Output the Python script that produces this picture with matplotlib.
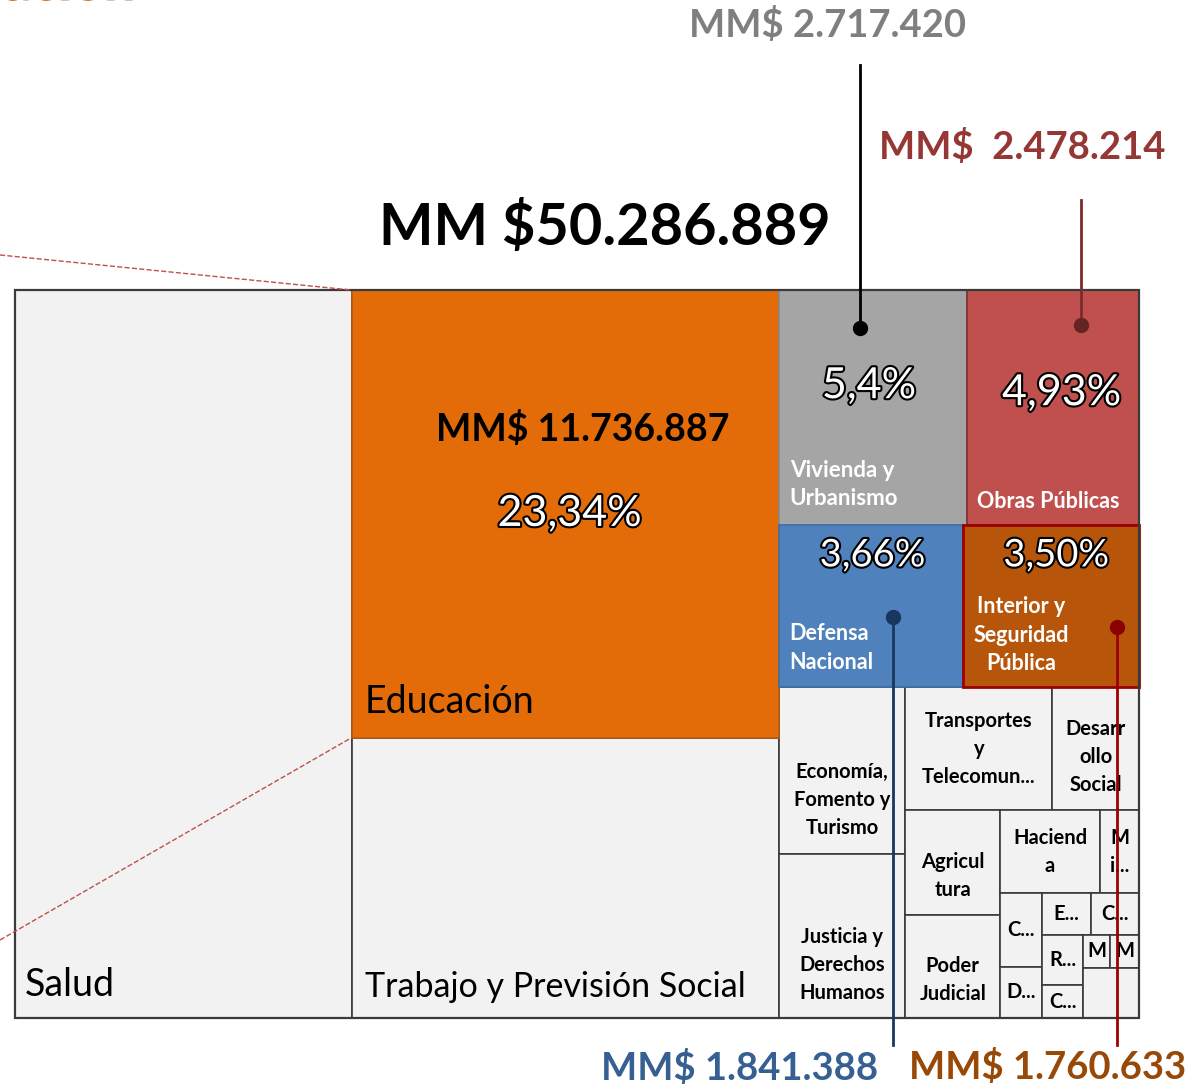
import matplotlib.pyplot as plt
import matplotlib.patheffects as pe
from matplotlib.patches import Rectangle

plt.rcParams['font.family'] = ['Lato', 'DejaVu Sans']

# presupuesto por ministerio (MM$)
ministerios = ["Salud", "Educación", "Trabajo y Previsión Social",
               "Vivienda y\nUrbanismo", "Obras Públicas",
               "Defensa\nNacional", "Interior y\nSeguridad\nPública",
               "Economía,\nFomento y\nTurismo", "Justicia y\nDerechos\nHumanos",
               "Transportes\ny\nTelecomun...", "Desarr\nollo\nSocial",
               "Agricul\ntura", "Poder\nJudicial", "Haciend\na", "M\ni...",
               "C...", "D...", "E...", "C...", "R...", "C...", "M", "M", ""]
montos = [15082000, 11736887, 7340000,
          2717420, 2478214,
          1841388, 1760633,
          1298000, 1281000,
          1113000, 658000,
          608000, 601000, 506000, 197000,
          191000, 132000, 127000, 124000, 126000, 83000, 55000, 59000, 172000]
porcentajes = {1: "23,34%", 3: "5,4%", 4: "4,93%", 5: "3,66%", 6: "3,50%"}
total_txt = "MM $50.286.889"

# estructura del treemap (h = lado a lado, v = apilado)
arbol = ('h', [0, ('v', [1, 2]),
               ('v', [('h', [3, 4]), ('h', [5, 6]),
                      ('h', [('v', [7, 8]),
                             ('v', [('h', [9, 10]),
                                    ('h', [('v', [11, 12]),
                                           ('v', [('h', [13, 14]),
                                                  ('h', [('v', [15, 16]),
                                                         ('v', [('h', [17, 18]),
                                                                ('h', [('v', [19, 20]),
                                                                       ('v', [('h', [21, 22]), 23])])])])])])])])])])


def suma(n):
    if isinstance(n, int):
        return montos[n]
    return sum(suma(c) for c in n[1])


rects = {}


def layout(n, x, y, w, h):
    if isinstance(n, int):
        rects[n] = (x, y, w, h)
        return
    d, hijos = n
    tot = suma(n)
    for c in hijos:
        f = suma(c) / tot
        if d == 'h':
            layout(c, x, y, w * f, h)
            x += w * f
        else:
            layout(c, x, y, w, h * f)
            y += h * f


fig = plt.figure(figsize=(11.91, 10.87), dpi=100)
ax = fig.add_axes([0, 0, 1, 1])
ax.set_xlim(0, 1191)
ax.set_ylim(1087, 0)
ax.axis('off')

layout(arbol, 15, 290, 1124, 728)

relleno = {1: "#e36c09", 3: "#a5a5a5", 4: "#c0504d", 5: "#4f81bd", 6: "#b7560a"}
borde = {1: "#b85a10", 3: "#8a8a8a", 4: "#7a3030", 5: "#3f6ea5", 6: "#9c0000"}

for i in range(len(montos)):
    x, y, w, h = rects[i]
    ax.add_patch(Rectangle((x, y), w, h, facecolor=relleno.get(i, "#f2f2f2"),
                           edgecolor=borde.get(i, "#3a3a3a"),
                           linewidth=2 if i == 6 else 1.2, zorder=2 if i in relleno else 1))
ax.add_patch(Rectangle((15, 290), 1124, 728, fill=False, edgecolor="#3a3a3a", linewidth=1.6, zorder=3))

outline = [pe.withStroke(linewidth=3, foreground='black')]


def pos(i, fx, fy):
    x, y, w, h = rects[i]
    return x + w * fx, y + h * fy


# etiquetas grandes
for i, fx, fy, fs in [(0, 0.03, 0.955, 27), (1, 0.03, 0.92, 27), (2, 0.03, 0.89, 24.5)]:
    ax.text(*pos(i, fx, fy), ministerios[i], fontsize=fs, color='black',
            ha='left', va='center', zorder=5)

ax.text(*pos(1, 0.54, 0.31), "MM$ 11.736.887", fontsize=27, fontweight='bold',
        ha='center', va='center', zorder=5)

# porcentajes con contorno
for i, fx, fy, fs in [(1, 0.51, 0.5, 31), (3, 0.48, 0.41, 31), (4, 0.55, 0.44, 31),
                      (5, 0.51, 0.19, 27.5), (6, 0.53, 0.19, 27.5)]:
    ax.text(*pos(i, fx, fy), porcentajes[i], fontsize=fs, color='white',
            ha='center', va='center', path_effects=outline, zorder=5)

# etiquetas blancas
ax.text(*pos(3, 0.06, 0.83), ministerios[3], fontsize=16, color='white', fontweight='bold',
        ha='left', va='center', linespacing=1.45, zorder=5)
ax.text(*pos(4, 0.47, 0.9), ministerios[4], fontsize=15.5, color='white', fontweight='bold',
        ha='center', va='center', zorder=5)
ax.text(*pos(5, 0.06, 0.76), ministerios[5], fontsize=15.5, color='white', fontweight='bold',
        ha='left', va='center', linespacing=1.45, zorder=5)
ax.text(*pos(6, 0.33, 0.68), ministerios[6], fontsize=15.5, color='white', fontweight='bold',
        ha='center', va='center', linespacing=1.45, zorder=5)

# etiquetas pequeñas (algunas algo más abajo que el centro)
alto = {7: 0.68, 8: 0.68, 10: 0.57, 11: 0.63, 12: 0.63}
for i in range(7, len(montos)):
    x, y, w, h = rects[i]
    t = ax.text(x + w / 2, y + h * alto.get(i, 0.5), ministerios[i], fontsize=14.5,
                fontweight='bold', ha='center', va='center', linespacing=1.5, zorder=5)
    if i == 20:
        t.set_clip_path(Rectangle((x, y), w, h, transform=ax.transData))

# totales y llamadas
ax.text(605, 228, total_txt, fontsize=41.5, fontweight='bold', ha='center', va='center', zorder=5)

callouts = [
    (3, 0.43, 0.16, "MM$ 2.717.420", "#7f7f7f", "black", "black", 65, (828, 25)),
    (4, 0.66, 0.15, "MM$  2.478.214", "#953735", "#7a2c2c", "#632523", 200, (1022, 147)),
    (5, 0.62, 0.57, "MM$ 1.841.388", "#376092", "#17375e", "#17375e", 1045, (740, 1068)),
    (6, 0.876, 0.63, "MM$ 1.760.633", "#984807", "#9c0000", "#8b0000", 1045, (1048, 1067)),
]
for i, fx, fy, txt, col, lcol, dcol, yend, tpos in callouts:
    px, py = pos(i, fx, fy)
    ax.plot([px, px], [py, yend], color=lcol, linewidth=2, zorder=6)
    ax.plot(px, py, 'o', color=dcol, markersize=10, zorder=7)
    ax.text(*tpos, txt, fontsize=27.5, fontweight='bold', color=col,
            ha='center', va='center', zorder=6)

# líneas de zoom desde el gráfico anterior
ax.plot([0, 351], [255, 290], linestyle='--', color="#c0504d", linewidth=1, zorder=4)
ax.plot([0, 351], [940, 738], linestyle='--', color="#c0504d", linewidth=1, zorder=4)

# título cortado arriba
ax.text(135, -1, "ación", fontsize=40, fontweight='bold', color="#f0883a", ha='right',
        va='baseline', path_effects=[pe.withStroke(linewidth=2, foreground="#c05a08")])

fig.savefig("out.png", dpi=100)
